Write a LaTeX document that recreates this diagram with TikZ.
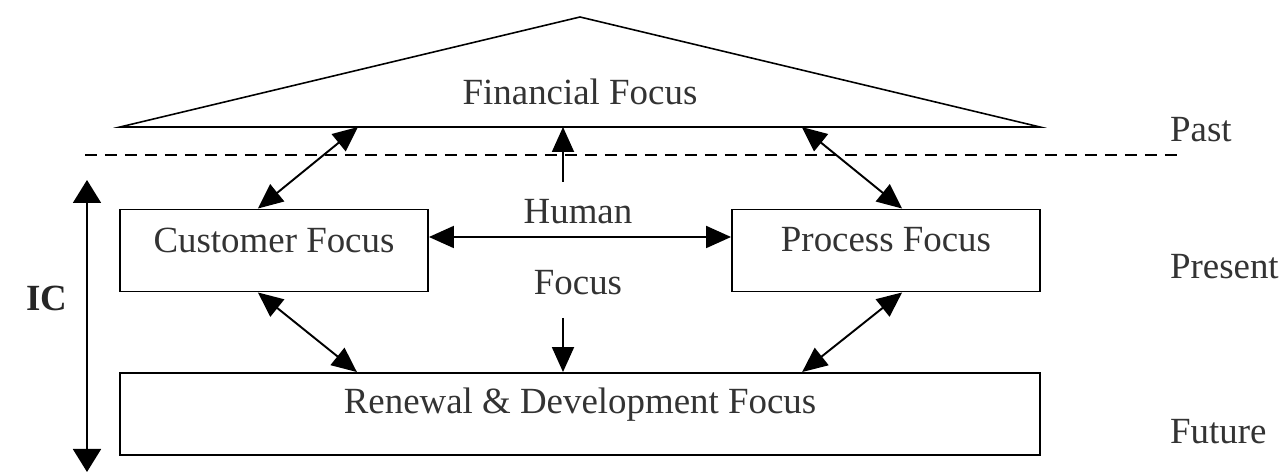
\documentclass[tikz,border=0pt]{standalone}
\usepackage{fontspec}
\setmainfont{Liberation Serif}
\usetikzlibrary{arrows.meta,calc}
\begin{document}
\begin{tikzpicture}[x=0.02cm,y=-0.02cm,
  box/.style={draw,line width=1.1pt,rectangle,inner sep=0pt},
  lbl/.style={text=black!80,font=\fontsize{21}{25}\selectfont,inner sep=1pt},
  arr/.style={line width=1.1pt,{Triangle[length=0.5cm,width=0.44cm]}-{Triangle[length=0.5cm,width=0.44cm]}},
  one/.style={line width=1.1pt,-{Triangle[length=0.5cm,width=0.44cm]}}]
\useasboundingbox (0,0) rectangle (1282,475);
% financial triangle
\coordinate (finL) at (120,127);
\coordinate (finR) at (1040,127);
\coordinate (apex) at (580,17);
\draw[line width=0.9pt] (finL) -- (apex) -- (finR) -- cycle;
\node[lbl] (fin) at (580,92) {Financial Focus};
% dashed line
\coordinate (dL) at (85,155);
\coordinate (dR) at (1177,155);
\draw[line width=1pt,dash pattern=on 0.24cm off 0.16cm] (dL) -- (dR);
% boxes
\node[box,minimum width=6.16cm,minimum height=1.64cm] (cust) at (274,250.5) {};
\node[lbl] (custt) at ([yshift=0.21cm]cust.center) {Customer Focus};
\node[box,minimum width=6.16cm,minimum height=1.64cm] (proc) at (886,250.5) {};
\node[lbl] (proct) at ([yshift=0.21cm]proc.center) {Process Focus};
\node[box,minimum width=18.4cm,minimum height=1.64cm] (ren) at (580,414) {};
\node[lbl] (rent) at ([yshift=0.18cm]ren.center) {Renewal \& Development Focus};
% human focus
\node[lbl] (human) at (578,212) {Human};
\node[lbl] (hfocus) at (578,283) {Focus};
\coordinate (upTail) at (563,182);
\coordinate (dnTail) at (563,318);
% time labels
\node[lbl,anchor=west] (past) at (1168,130) {Past};
\node[lbl,anchor=west] (present) at (1168,267) {Present};
\node[lbl,anchor=west] (future) at (1168,432) {Future};
% IC
\node[font=\fontsize{21}{25}\selectfont\bfseries,text=black!85] (ic) at (47,298) {IC};
\coordinate (icTop) at (87,180);
\coordinate (icBot) at (87,472);
\draw[line width=1.1pt,{Triangle[length=0.46cm,width=0.56cm]}-{Triangle[length=0.46cm,width=0.56cm]}] (icTop) -- (icBot);
% arrows
\draw[one] (upTail) -- (upTail |- finL);
\draw[one] (dnTail) -- (dnTail |- ren.north);
\draw[arr] ([yshift=0.27cm]cust.east) -- ([yshift=0.27cm]proc.west);
\draw[arr] ($(cust.north west)!0.448!(cust.north east)$) -- ($(finL)!0.2587!(finR)$);
\draw[arr] ($(finL)!0.741!(finR)$) -- ($(proc.north west)!0.552!(proc.north east)$);
\draw[arr] ($(cust.south west)!0.448!(cust.south east)$) -- ($(ren.north west)!0.258!(ren.north east)$);
\draw[arr] ($(proc.south west)!0.552!(proc.south east)$) -- ($(ren.north west)!0.741!(ren.north east)$);
\end{tikzpicture}
\end{document}
